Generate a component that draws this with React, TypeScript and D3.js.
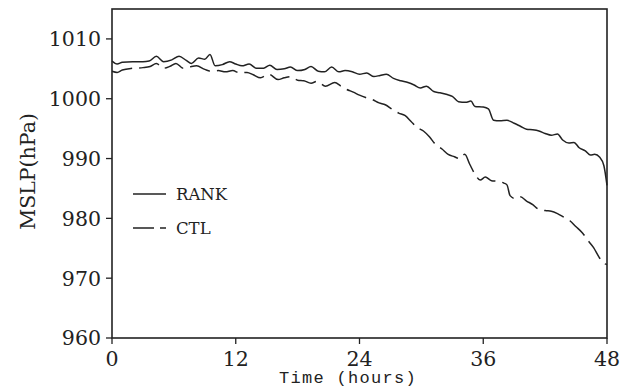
import React from "react";
import * as d3 from "d3";

const rankHours = [0,0.5,1,2,3,3.6,4.3,5,5.8,6.5,7.2,7.7,8.4,9,9.5,10,10.7,11.4,12,12.6,13.3,14,14.7,15.3,16,16.7,17.3,18,18.7,19.3,20,20.6,21.3,22,22.6,23.3,24,24.7,25.4,26,26.6,27.3,28,28.7,29.3,29.9,30.5,31.2,31.8,32.5,33,33.6,34.3,34.8,35.2,36,36.5,37,37.6,38.3,39,39.6,40.2,40.8,41.4,42,42.6,43.2,43.7,44.3,44.8,45.3,45.9,46.4,46.8,47.3,47.7,48];
const rankValues = [1006.3,1005.8,1006.1,1006.2,1006.2,1006.3,1007.1,1006.2,1006.5,1007.1,1006.4,1005.9,1006.8,1006.6,1007.4,1005.5,1005.7,1006.2,1005.8,1005.5,1005.8,1005.1,1005.1,1005.6,1004.9,1005.0,1005.3,1004.7,1004.9,1005.4,1004.6,1004.5,1005.3,1004.5,1004.7,1004.5,1004.1,1004.3,1003.7,1003.9,1004.1,1003.4,1003.0,1002.7,1002.3,1001.8,1002.1,1001.2,1001.0,1000.7,1000.4,999.5,999.4,999.6,998.7,998.6,998.3,996.4,996.3,996.4,995.9,995.4,994.9,994.8,994.6,994.2,993.9,994.1,993.1,992.6,992.7,991.8,991.3,990.6,990.7,990.2,988.8,985.5];

const ctlHours = [0,0.5,1,2,3,3.7,4.3,5,5.6,6.2,6.9,7.5,8.2,9,9.6,10.3,11,11.7,12.4,13.1,13.7,14.4,15.2,16.1,16.7,17.3,18,18.6,19.3,19.9,20.7,21.6,22.2,22.7,23.4,24,24.6,25.2,25.9,26.5,27.2,27.8,28.4,29,29.5,30.2,30.8,31.3,32,32.6,33.2,33.7,34.2,34.7,35.2,35.7,36.2,36.8,37.4,38,38.3,38.6,39.1,39.6,40.2,40.8,41.3,42,42.6,43.2,43.8,44.4,45,45.6,46.2,46.7,47.2,47.6,48];
const ctlValues = [1004.6,1004.4,1004.8,1005.1,1005.2,1005.4,1005.9,1005.1,1005.4,1005.9,1005.1,1005.3,1005.5,1004.9,1004.6,1004.7,1004.5,1004.7,1004.3,1004.4,1004.0,1003.5,1004.1,1003.2,1003.5,1003.7,1003.1,1003.0,1002.6,1002.9,1002.1,1002.7,1002.1,1001.6,1001.1,1000.6,1000.2,999.9,999.3,999.0,998.2,997.6,997.2,996.2,995.3,994.6,993.6,992.5,991.6,990.7,990.3,990.0,990.7,989.0,987.4,986.4,986.9,986.3,986.2,985.9,985.6,983.8,983.3,983.6,982.9,982.3,981.6,981.3,981.2,980.8,980.2,979.6,978.6,977.6,976.2,975.1,973.6,972.6,972.3];

const xTicks = [0, 12, 24, 36, 48];
const yTicks = [960, 970, 980, 990, 1000, 1010];
const seriesNames = ["RANK", "CTL"];

export default function App() {
  const W = 632, H = 389;
  const left = 112, right = 607, top = 9, bottom = 338;
  const x = d3.scaleLinear().domain([0, 48]).range([left, right]);
  const y = d3.scaleLinear().domain([960, 1015]).range([bottom, top]);
  const line = d3.line<[number, number]>().x(d => x(d[0])).y(d => y(d[1])).curve(d3.curveMonotoneX);
  const rank = rankHours.map((h, i) => [h, rankValues[i]] as [number, number]);
  const ctl = ctlHours.map((h, i) => [h, ctlValues[i]] as [number, number]);
  const ink = "#222";
  const serif = "'DejaVu Serif', serif";
  return (
    <svg width={W} height={H} style={{ position: "absolute", left: 0, top: 0, background: "#fff" }}>
      <rect x={0} y={0} width={W} height={H} fill="#fff" />
      <path d={line(rank) || ""} fill="none" stroke={ink} strokeWidth={1.5} />
      <path d={line(ctl) || ""} fill="none" stroke={ink} strokeWidth={1.5} strokeDasharray="21,7" />
      <rect x={left} y={top} width={right - left} height={bottom - top} fill="none" stroke={ink} strokeWidth={1.6} />
      {yTicks.map(t => (
        <g key={"y" + t}>
          <line x1={left - 6} x2={left} y1={y(t)} y2={y(t)} stroke={ink} strokeWidth={1.3} />
          <text x={left - 11} y={y(t)} dy="0.36em" textAnchor="end" fontFamily={serif} fontSize={20.5} fill={ink}>{t}</text>
        </g>
      ))}
      {xTicks.map(t => (
        <g key={"x" + t}>
          <line x1={x(t)} x2={x(t)} y1={bottom} y2={bottom + 6} stroke={ink} strokeWidth={1.3} />
          <text x={x(t)} y={366} textAnchor="middle" fontFamily={serif} fontSize={20.5} fill={ink}>{t}</text>
        </g>
      ))}
      <text x={348} y={383} textAnchor="middle" fontFamily="'Liberation Mono', monospace" fontSize={17} letterSpacing={1.3} fill={ink}>Time (hours)</text>
      <text transform={`translate(35,${(top + bottom) / 2 - 2}) rotate(-90)`} textAnchor="middle" fontFamily={serif} fontSize={20.5} fill={ink}>MSLP(hPa)</text>
      <line x1={133} x2={166} y1={194} y2={194} stroke={ink} strokeWidth={1.3} />
      <text x={176} y={200} fontFamily={serif} fontSize={16.5} fill={ink}>{seriesNames[0]}</text>
      <line x1={133} x2={166} y1={228} y2={228} stroke={ink} strokeWidth={1.3} strokeDasharray="21,6" />
      <text x={176} y={234} fontFamily={serif} fontSize={16.5} fill={ink}>{seriesNames[1]}</text>
    </svg>
  );
}
